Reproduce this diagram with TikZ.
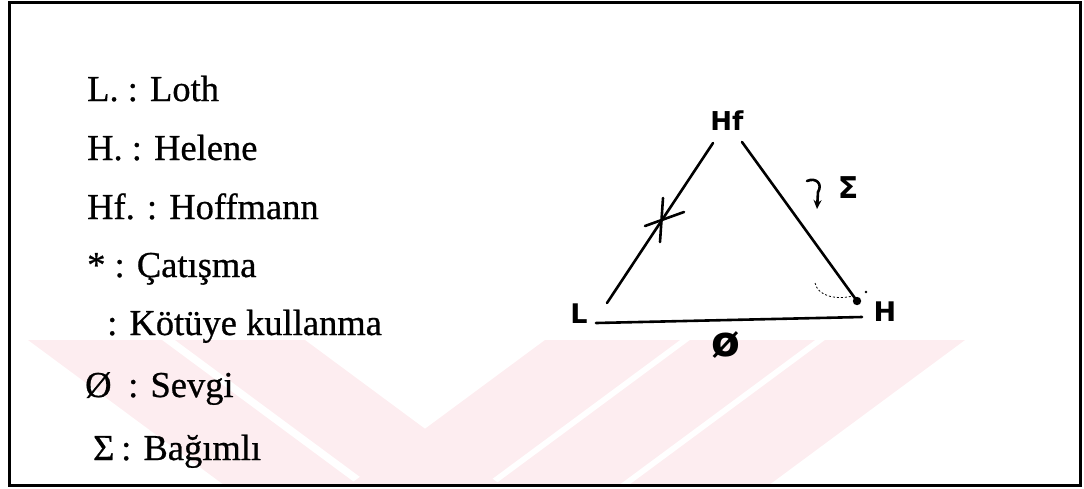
\documentclass[tikz,border=0pt]{standalone}
\usepackage{fontspec}
\setmainfont{Liberation Serif}
\newfontfamily\legfont[RawFeature={embolden=0.7}]{Liberation Serif}
\newfontfamily\handfont{DejaVu Sans}
\usetikzlibrary{arrows.meta}
\definecolor{wmpink}{RGB}{253,237,240}
\begin{document}
\begin{tikzpicture}[x=1pt,y=-1pt,
  legend/.style={anchor=base west, inner sep=0pt, font=\legfont\fontsize{36.5}{40}\selectfont},
  hand/.style={inner sep=0pt, font=\handfont\bfseries\fontsize{22}{24}\selectfont},
  edge/.style={line width=2.6pt, line cap=round},
  wm/.style={fill=wmpink, draw=none}]
\useasboundingbox (0,0) rectangle (1084,488);
% watermark
\begin{scope}
\clip (9,2) rectangle (1080,485);
\fill[wm] (28,340) -- (162,340) -- (358,485) -- (224,485) -- cycle;
\fill[wm] (175,340) -- (305,340) -- (501,485) -- (371,485) -- cycle;
\fill[wm] (545,340) -- (680,340) -- (484,485) -- (349,485) -- cycle;
\fill[wm] (690,340) -- (815,340) -- (619,485) -- (494,485) -- cycle;
\fill[wm] (825,340) -- (965,340) -- (769,485) -- (629,485) -- cycle;
\end{scope}
% frame
\draw[line width=3pt] (9,2) rectangle (1080,485);
% legend
\node[legend] (l1) at (87,101) {L. : Loth};
\node[legend] (l2) at (87,160) {H. : Helene};
\node[legend] (l3) at (87,219) {Hf. : Hoffmann};
\node[legend] (l4) at (87,277) {* : Çatışma};
\node[legend] (l5) at (107,335) {: Kötüye kullanma};
\node[legend] (l6s) at (85,397) {Ø};
\node[legend] (l6) at (128,397) {: Sevgi};
\node[legend] (l7s) at (93,460) {Σ};
\node[legend] (l7) at (121,460) {: Bağımlı};
% triangle labels
\node[hand, font=\handfont\bfseries\fontsize{26}{28}\selectfont] (Hf) at (727,121) {Hf};
\node[hand, font=\handfont\bfseries\fontsize{27}{29}\selectfont] (L) at (579,314) {L};
\node[hand, font=\handfont\bfseries\fontsize{27}{29}\selectfont] (H) at (885,312) {H};
\node[hand, font=\handfont\bfseries\fontsize{42}{44}\selectfont] (phi) at (726,345) {ø};
\node[hand, font=\handfont\bfseries\fontsize{30}{32}\selectfont] (sig) at (848,188) {Σ};
% endpoints
\coordinate (a1) at (713,143);
\coordinate (a2) at (607,303);
\coordinate (b1) at (742,142);
\coordinate (b2) at (857,301);
\coordinate (c1) at (596,323);
\coordinate (c2) at (862,317);
\draw[edge] (a1) -- (a2);
\draw[edge] (b1) -- (b2);
\draw[edge] (c1) -- (c2);
\fill (b2) circle (4.2);
% conflict mark
\coordinate (t1) at (663,198);
\coordinate (t2) at (660,242);
\coordinate (t3) at (645,226);
\coordinate (t4) at (684,212);
\draw[edge] (t1) -- (t2);
\draw[edge] (t3) -- (t4);
% dependency arrow
\coordinate (h1) at (807,181);
\coordinate (h2) at (817,209);
\draw[line width=2.6pt, line cap=round, -{Stealth[length=9pt,width=8pt]}] (h1) .. controls (816,177) and (823,184) .. (818,192) -- (h2);
% abuse (dotted) curve
\coordinate (d1) at (815,283);
\coordinate (d2) at (853,296);
\draw[line width=0.8pt, dash pattern=on 2pt off 2pt] (d1) .. controls (818,296) and (835,300) .. (d2);
\fill (866,292) circle (1.4);
\end{tikzpicture}
\end{document}
